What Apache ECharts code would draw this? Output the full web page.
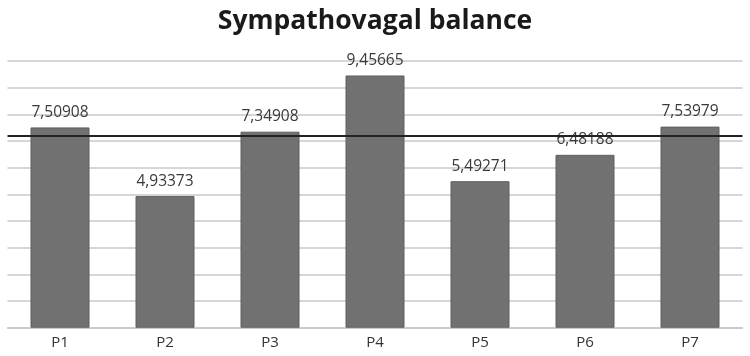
<!DOCTYPE html>
<html>
<head>
<meta charset="utf-8">
<script src="https://cdn.jsdelivr.net/npm/echarts@6/dist/echarts.min.js"></script>
<style>
  html, body { margin: 0; padding: 0; background: #ffffff; }
  #chart { width: 750px; height: 356px; }
</style>
</head>
<body>
<div id="chart"></div>
<script>
// Balance index per patient
const categories = ['P1', 'P2', 'P3', 'P4', 'P5', 'P6', 'P7'];
const balanceValues = [7.50908, 4.93373, 7.34908, 9.45665, 5.49271, 6.48188, 7.53979];
const referenceLevel = 7.2;
const axisMax = 10;
const axisStep = 1;

const chart = echarts.init(document.getElementById('chart'), null, { renderer: 'canvas' });

chart.setOption({
  animation: false,
  backgroundColor: '#ffffff',
  title: {
    text: 'Sympathovagal balance',
    left: 'center',
    top: 3,
    textStyle: {
      fontFamily: 'Open Sans',
      fontWeight: 'bold',
      fontSize: 26.5,
      color: '#1a1a1a'
    }
  },
  grid: { left: 7.5, right: 7.5, top: 61, bottom: 28.3, containLabel: false },
  xAxis: {
    type: 'category',
    data: categories,
    axisLine: { show: true, lineStyle: { color: '#c8c8c8', width: 1.5 } },
    axisTick: { show: false },
    axisLabel: {
      color: '#333333',
      fontFamily: 'Open Sans',
      fontSize: 15,
      margin: 8
    }
  },
  yAxis: {
    type: 'value',
    min: 0,
    max: axisMax,
    interval: axisStep,
    axisLine: { show: false },
    axisTick: { show: false },
    axisLabel: { show: false },
    splitLine: { show: true, lineStyle: { color: '#c8c8c8', width: 1.5 } }
  },
  series: [{
    type: 'bar',
    data: balanceValues,
    barWidth: 59,
    itemStyle: { color: '#717171', borderColor: '#5f5f5f', borderWidth: 1 },
    label: {
      show: true,
      position: 'top',
      distance: 7,
      color: '#3a3a3a',
      fontFamily: 'Open Sans',
      fontSize: 15.5,
      formatter: p => String(p.value).replace('.', ',')
    },
    markLine: {
      silent: true,
      symbol: ['none', 'none'],
      label: { show: false },
      lineStyle: { color: '#222222', width: 2, type: 'solid' },
      data: [{ yAxis: referenceLevel }]
    }
  }]
});
</script>
</body>
</html>
